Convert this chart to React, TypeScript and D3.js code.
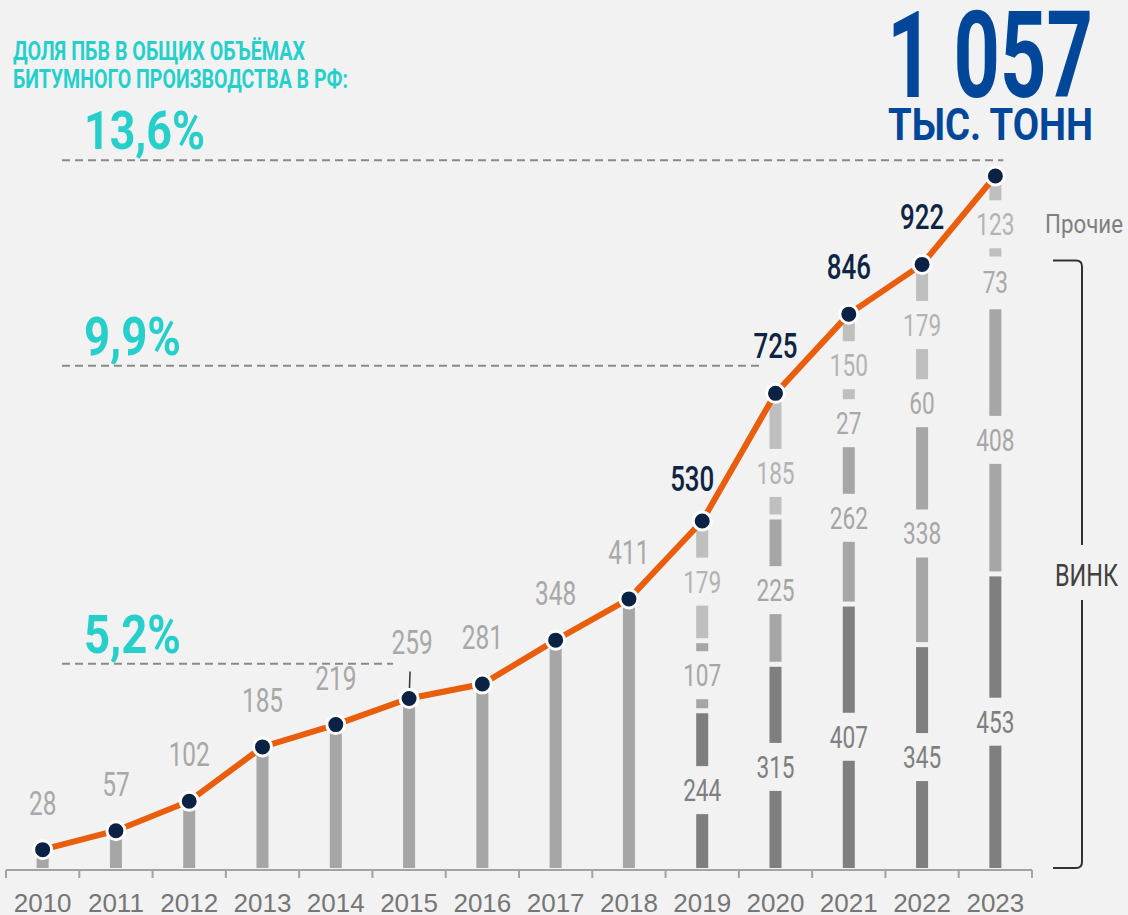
import React, { useEffect, useRef } from "react";
import * as d3 from "d3";

// total output, thousand tonnes
const years = ["2010", "2011", "2012", "2013", "2014", "2015", "2016", "2017", "2018", "2019", "2020", "2021", "2022", "2023"];
const totals = [28, 57, 102, 185, 219, 259, 281, 348, 411, 530, 725, 846, 922, 1057];

// breakdown for the last five years
const stackYears = ["2019", "2020", "2021", "2022", "2023"];
const vinkA = [244, 315, 407, 345, 453];
const vinkB = [107, 225, 262, 338, 408];
const vinkC = [0, 0, 27, 60, 73];
const others = [179, 185, 150, 179, 123];

// share of PMB in total bitumen output, dashed reference levels (in thousand tonnes)
const shareLabels = ["13,6%", "9,9%", "5,2%"];
const shareLevels = [1081, 767, 312];
const shareEndYears = ["2023", "2020", "2015"];

const W = 1128;
const H = 915;
const BG = "#f2f2f2";
const CYAN = "#27cfcb";
const NAVY = "#0c2245";
const COND = "Roboto, 'Noto Sans', sans-serif";

const keys = ["a", "b", "c", "o"];
const segColors = { a: "#7f7f7f", b: "#a6a6a6", c: "#bfbfbf", o: "#bfbfbf" };
const segLabelColors = { a: "#7f7f7f", b: "#a6a6a6", c: "#a9a9a9", o: "#b3b3b3" };

const App = () => {
    const svgRef = useRef(null);

    useEffect(() => {
        const svg = d3.select(svgRef.current);
        svg.selectAll("*").remove();

        svg.append("rect").attr("width", W).attr("height", H).attr("fill", BG);

        const x = d3.scaleBand().domain(years).range([6, 1032]);
        const y = d3.scaleLinear().domain([0, 1057]).range([868, 176]);
        const cx = (yr) => x(yr) + x.bandwidth() / 2;
        const barW = 12;

        // condensed number text helper
        const numText = (g, txt, px, py, size, fill, weight, sx) =>
            g.append("text")
                .attr("transform", `translate(${px},${py}) scale(${sx},1)`)
                .attr("text-anchor", "middle")
                .attr("font-family", COND)
                .attr("font-size", size)
                .attr("font-weight", weight)
                .attr("fill", fill)
                .text(txt);

        // header
        const header = svg.append("g")
            .attr("font-family", COND)
            .attr("font-weight", 700)
            .attr("fill", CYAN);
        header.append("text").attr("x", 13).attr("y", 60).attr("font-size", 26)
            .attr("textLength", 292).attr("lengthAdjust", "spacingAndGlyphs")
            .text("ДОЛЯ ПБВ В ОБЩИХ ОБЪЁМАХ");
        header.append("text").attr("x", 13).attr("y", 88).attr("font-size", 26)
            .attr("textLength", 335).attr("lengthAdjust", "spacingAndGlyphs")
            .text("БИТУМНОГО ПРОИЗВОДСТВА В РФ:");

        svg.append("text").attr("x", 887).attr("y", 97)
            .attr("font-family", COND).attr("font-weight", 700).attr("font-size", 120)
            .attr("fill", "#00479a")
            .attr("textLength", 206).attr("lengthAdjust", "spacingAndGlyphs")
            .text("1 057");
        svg.append("text").attr("x", 888).attr("y", 140)
            .attr("font-family", COND).attr("font-weight", 700).attr("font-size", 45)
            .attr("fill", "#00479a")
            .attr("textLength", 205).attr("lengthAdjust", "spacingAndGlyphs")
            .text("ТЫС. ТОНН");

        // share reference lines
        const endOffsets = [8, -13, -16];
        shareLabels.forEach((lab, i) => {
            const ly = y(shareLevels[i]);
            svg.append("line")
                .attr("x1", 62).attr("x2", cx(shareEndYears[i]) + endOffsets[i])
                .attr("y1", ly).attr("y2", ly)
                .attr("stroke", "#8a8a8a").attr("stroke-width", 2)
                .attr("stroke-dasharray", "8 5");
            svg.append("text")
                .attr("x", 84).attr("y", ly - 11)
                .attr("font-family", COND).attr("font-weight", 700).attr("font-size", 53)
                .attr("fill", CYAN)
                .attr("textLength", lab.length > 4 ? 121 : 97).attr("lengthAdjust", "spacingAndGlyphs")
                .text(lab);
        });

        // axis
        svg.append("line")
            .attr("x1", x.range()[0]).attr("x2", x.range()[1])
            .attr("y1", 870).attr("y2", 870)
            .attr("stroke", "#a3a3a3").attr("stroke-width", 2);
        const boundaries = years.map((yr) => x(yr)).concat([x.range()[1]]);
        svg.selectAll(".tick")
            .data(boundaries)
            .enter()
            .append("line")
            .attr("x1", (d) => d).attr("x2", (d) => d)
            .attr("y1", 870).attr("y2", 878)
            .attr("stroke", "#a3a3a3").attr("stroke-width", 2);
        svg.selectAll(".year")
            .data(years)
            .enter()
            .append("text")
            .attr("x", (d) => cx(d))
            .attr("y", 912)
            .attr("text-anchor", "middle")
            .attr("font-family", "'Liberation Sans', Arial, sans-serif")
            .attr("font-size", 26)
            .attr("fill", "#767676")
            .text((d) => d);

        // simple bars (before breakdown)
        const simple = years.map((yr, i) => ({ yr, v: totals[i] })).filter((d) => !stackYears.includes(d.yr));
        svg.selectAll(".bar")
            .data(simple)
            .enter()
            .append("rect")
            .attr("x", (d) => cx(d.yr) - barW / 2)
            .attr("width", barW)
            .attr("y", (d) => y(d.v))
            .attr("height", (d) => y(0) - y(d.v))
            .attr("fill", "#a6a6a6");

        // stacked bars
        const table = stackYears.map((yr, i) => ({ yr, a: vinkA[i], b: vinkB[i], c: vinkC[i], o: others[i] }));
        const stacked = d3.stack().keys(keys)(table);
        const segs = [];
        stacked.forEach((layer, li) => {
            layer.forEach((s) => {
                if (s[1] - s[0] <= 0) return;
                segs.push({ key: layer.key, yr: s.data.yr, y0: s[0], y1: s[1], v: s[1] - s[0], top: li === keys.length - 1 });
            });
        });
        const gap = 5;
        svg.selectAll(".seg")
            .data(segs)
            .enter()
            .append("rect")
            .attr("x", (d) => cx(d.yr) - barW / 2)
            .attr("width", barW)
            .attr("y", (d) => y(d.y1) + (d.top ? 0 : gap))
            .attr("height", (d) => y(d.y0) - y(d.y1) - (d.top ? 0 : gap))
            .attr("fill", (d) => segColors[d.key]);

        const labelNudge = { "2020o": 17, "2023o": 6 };
        const segLabels = svg.append("g");
        segs.forEach((d) => {
            const lc = (y(d.y0) + y(d.y1)) / 2 + 2 + (labelNudge[d.yr + d.key] || 0);
            segLabels.append("rect")
                .attr("x", cx(d.yr) - 11).attr("width", 22)
                .attr("y", lc - 24).attr("height", 48)
                .attr("fill", BG);
            numText(segLabels, d.v, cx(d.yr), lc + 11, 31, segLabelColors[d.key], 400, 0.73);
        });

        // value labels above simple bars
        simple.forEach((d) => {
            const lift = d.yr === "2015" ? 9 : 0;
            numText(svg, d.v, cx(d.yr) + (lift ? 3 : 0), y(d.v) - 35 - lift, 33, "#a8a8a8", 400, 0.74);
            if (lift) {
                svg.append("line")
                    .attr("x1", cx(d.yr) + 1).attr("x2", cx(d.yr))
                    .attr("y1", y(d.v) - 27).attr("y2", y(d.v))
                    .attr("stroke", "#333").attr("stroke-width", 1.5);
            }
        });

        // totals line
        const pts = years.map((yr, i) => [cx(yr), y(totals[i])]);
        svg.append("path")
            .attr("d", d3.line()(pts))
            .attr("fill", "none")
            .attr("stroke", "#e85e0d")
            .attr("stroke-width", 6);
        svg.selectAll(".dot")
            .data(pts)
            .enter()
            .append("circle")
            .attr("cx", (d) => d[0])
            .attr("cy", (d) => d[1])
            .attr("r", 9)
            .attr("fill", NAVY)
            .attr("stroke", "#fff")
            .attr("stroke-width", 3);

        // totals labels for breakdown years (last one is the headline)
        stackYears.slice(0, -1).forEach((yr) => {
            const v = totals[years.indexOf(yr)];
            const dx = yr === "2019" ? -10 : 0;
            const dy = yr === "2019" ? 5 : 0;
            numText(svg, v, cx(yr) + dx, y(v) - 35 + dy, 35, "#0d2443", 500, 0.74);
        });

        // right side annotations
        const last = stackYears.length - 1;
        const vinkTop = y(vinkA[last] + vinkB[last] + vinkC[last]) + 4;
        const bx = 1082;
        svg.append("path")
            .attr("d", `M1053,${vinkTop} L${bx - 6},${vinkTop} Q${bx},${vinkTop} ${bx},${vinkTop + 6} L${bx},545 M${bx},600 L${bx},862 Q${bx},868 ${bx - 6},868 L1053,868`)
            .attr("fill", "none")
            .attr("stroke", "#333")
            .attr("stroke-width", 2);
        svg.append("text").attr("x", 1055).attr("y", 586)
            .attr("font-family", COND).attr("font-size", 31).attr("fill", "#404040")
            .attr("textLength", 63).attr("lengthAdjust", "spacingAndGlyphs")
            .text("ВИНК");
        svg.append("text").attr("x", 1045).attr("y", 233)
            .attr("font-family", COND).attr("font-size", 25).attr("fill", "#7f7f7f")
            .attr("textLength", 78).attr("lengthAdjust", "spacingAndGlyphs")
            .text("Прочие");
    }, []);

    return (
        <svg ref={svgRef} width={W} height={H} style={{ position: "absolute", left: 0, top: 0 }}></svg>
    );
};

export default App;
